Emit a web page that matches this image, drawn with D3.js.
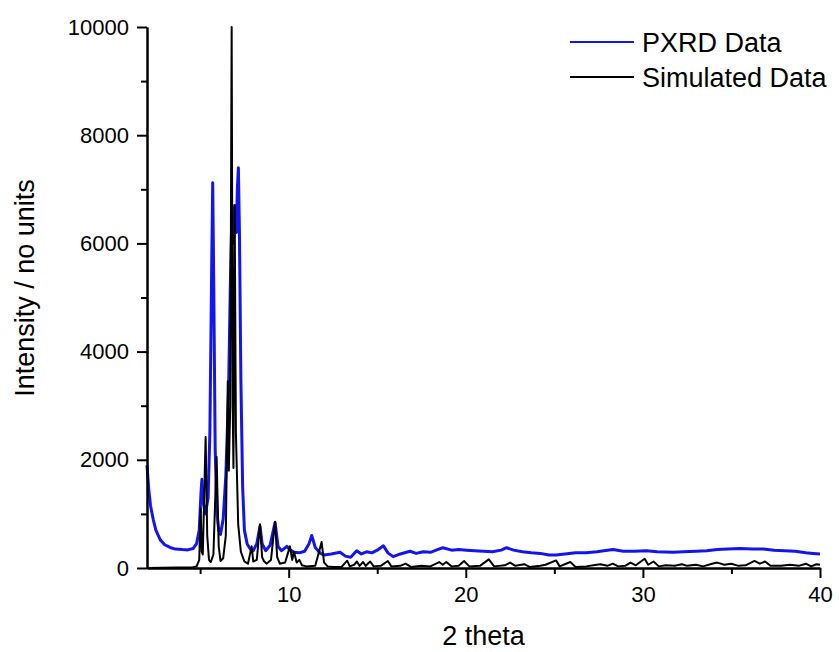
<!DOCTYPE html>
<html>
<head>
<meta charset="utf-8">
<script src="https://cdn.jsdelivr.net/npm/d3@7"></script>
<style>
    body { margin: 0; background: #fff; }
    svg { display: block; font-family: "Liberation Sans", Arial, sans-serif; }
</style>
</head>
<body>
<div id="pxrd-chart"></div>
<script>
// 2 theta / intensity pairs
var pxrdData = [
    [2.0,1900],[2.1,1450],[2.2,1150],[2.35,900],[2.5,700],[2.75,520],[3.0,430],[3.3,380],
    [3.6,350],[4.0,340],[4.3,335],[4.6,360],[4.8,450],[4.95,700],[5.05,1400],[5.1,1640],
    [5.18,1200],[5.3,1000],[5.45,1300],[5.55,2500],[5.65,5500],[5.71,7120],[5.77,5200],
    [5.85,2200],[5.95,1000],[6.05,700],[6.15,620],[6.3,900],[6.45,1700],[6.6,3200],
    [6.72,5500],[6.8,6600],[6.88,6000],[6.95,6700],[7.05,6200],[7.1,7000],[7.16,7400],
    [7.22,6200],[7.3,3500],[7.4,1500],[7.5,700],[7.65,450],[7.85,340],[8.0,320],[8.2,450],
    [8.38,770],[8.5,450],[8.7,320],[8.95,420],[9.23,840],[9.4,400],[9.6,320],[9.9,400],
    [10.1,330],[10.3,290],[10.6,280],[10.9,310],[11.15,450],[11.3,600],[11.5,380],[11.8,270],
    [12.0,240],[12.4,260],[12.9,290],[13.2,220],[13.5,200],[13.84,320],[14.1,260],[14.4,300],
    [14.7,280],[15.0,330],[15.35,410],[15.6,280],[15.9,210],[16.3,260],[16.85,310],[17.2,270],
    [17.6,300],[18.0,290],[18.4,340],[18.7,375],[19.2,330],[19.6,340],[20.05,330],[20.5,320],
    [21.0,310],[21.5,300],[22.0,330],[22.3,375],[22.7,330],[23.2,300],[23.7,280],[24.2,270],
    [24.7,240],[25.1,240],[25.6,260],[26.2,280],[26.8,280],[27.4,300],[28.3,340],[28.9,310],
    [29.5,310],[30.2,320],[30.8,300],[31.7,290],[32.3,300],[33.0,310],[33.6,320],[34.2,340],
    [34.8,350],[35.5,360],[36.2,350],[36.8,350],[37.4,330],[38.0,320],[38.6,310],[39.2,280],
    [39.6,270],[40.0,260]
];

var simulatedData = [
    [2.0,0],[4.6,15],[4.8,30],[4.95,150],[5.03,1100],[5.09,300],[5.15,250],[5.31,2420],
    [5.4,600],[5.5,150],[5.6,110],[5.75,250],[5.93,2050],[6.05,400],[6.15,130],[6.3,180],
    [6.45,600],[6.56,3450],[6.62,1800],[6.7,3000],[6.78,10000],[6.84,3000],[6.88,1850],
    [6.95,6700],[7.02,2500],[7.15,800],[7.3,300],[7.5,120],[7.7,80],[7.91,400],[8.0,120],
    [8.2,150],[8.38,810],[8.5,200],[8.6,130],[8.75,80],[9.0,150],[9.23,855],[9.35,200],
    [9.5,80],[9.8,100],[10.07,400],[10.2,150],[10.3,300],[10.45,100],[10.6,150],[10.75,50],
    [11.0,30],[11.5,40],[11.86,480],[12.0,100],[12.2,30],[12.5,20],[13.0,25],[13.3,135],
    [13.45,30],[13.7,60],[13.85,120],[14.0,40],[14.2,110],[14.35,40],[14.6,120],[14.8,30],
    [15.2,40],[15.6,130],[15.8,30],[16.3,40],[16.6,80],[16.9,20],[17.5,40],[18.0,30],
    [18.5,110],[18.7,60],[18.9,110],[19.2,30],[19.6,40],[19.9,130],[20.2,30],[20.8,40],
    [21.3,160],[21.6,30],[22.2,50],[22.5,100],[22.8,40],[23.3,70],[23.6,20],[24.2,40],
    [24.5,60],[25.1,140],[25.3,30],[25.9,110],[26.2,20],[26.8,30],[27.2,50],[27.6,70],
    [28.0,40],[28.3,80],[28.6,30],[29.0,40],[29.3,100],[29.6,50],[30.1,170],[30.3,60],
    [30.6,120],[30.9,30],[31.3,50],[31.8,40],[32.2,70],[32.5,40],[33.0,60],[33.4,30],
    [33.9,80],[34.2,100],[34.6,60],[35.0,80],[35.4,40],[35.8,50],[36.3,130],[36.6,80],
    [36.9,120],[37.2,40],[37.8,40],[38.3,60],[38.8,40],[39.2,80],[39.5,30],[39.8,70],[40.0,60]
];

var xMajorTicks = [10, 20, 30, 40];
var xMinorTicks = [5, 15, 25, 35];
var yMajorTicks = [0, 2000, 4000, 6000, 8000, 10000];
var yMinorTicks = [1000, 3000, 5000, 7000, 9000];

var seriesNames = ["PXRD Data", "Simulated Data"];
var seriesColors = ["#1414ee", "#000000"];

var gSettings = {
    width : 839,
    height : 652,
    left : 147,
    right : 820,
    top : 27,
    bottom : 568
};

function drawChart(){
    var svg = d3.select("#pxrd-chart").append("svg")
        .attr("width", gSettings.width)
        .attr("height", gSettings.height);

    var x = d3.scaleLinear().domain([2, 40]).range([gSettings.left, gSettings.right]);
    var y = d3.scaleLinear().domain([0, 10000]).range([gSettings.bottom, gSettings.top]);

    var line = d3.line()
        .x(function(d){ return x(d[0]); })
        .y(function(d){ return y(d[1]); });

    //blue first, simulated on top
    svg.append("path")
        .datum(pxrdData)
        .attr("fill", "none")
        .attr("stroke", seriesColors[0])
        .attr("stroke-width", 3)
        .attr("stroke-linejoin", "round")
        .attr("d", line);

    svg.append("path")
        .datum(simulatedData)
        .attr("fill", "none")
        .attr("stroke", seriesColors[1])
        .attr("stroke-width", 2)
        .attr("stroke-linejoin", "round")
        .attr("d", line);

    //x axis
    var gx = svg.append("g").attr("transform", "translate(0," + gSettings.bottom + ")");
    gx.call(d3.axisBottom(x).tickValues(xMajorTicks).tickSize(10).tickPadding(8).tickSizeOuter(0));
    gx.append("g").call(d3.axisBottom(x).tickValues(xMinorTicks).tickSize(6).tickFormat("").tickSizeOuter(0));

    //y axis
    var gy = svg.append("g").attr("transform", "translate(" + gSettings.left + ",0)");
    gy.call(d3.axisLeft(y).tickValues(yMajorTicks).tickSize(10).tickPadding(8).tickSizeOuter(0)
        .tickFormat(d3.format("d")));
    gy.append("g").call(d3.axisLeft(y).tickValues(yMinorTicks).tickSize(6).tickFormat("").tickSizeOuter(0));

    svg.selectAll(".domain").attr("stroke", "#000").attr("stroke-width", 2);
    svg.selectAll(".tick line").attr("stroke", "#000").attr("stroke-width", 2);
    svg.selectAll(".tick text")
        .attr("fill", "#000")
        .style("font-size", "22px")
        .style("font-family", "'Liberation Sans', Arial, sans-serif");

    //axis titles
    svg.append("text")
        .attr("x", (gSettings.left + gSettings.right) / 2)
        .attr("y", 645)
        .attr("text-anchor", "middle")
        .style("font-size", "27px")
        .text("2 theta");

    svg.append("text")
        .attr("transform", "translate(34," + 288 + ") rotate(-90)")
        .attr("text-anchor", "middle")
        .style("font-size", "27px")
        .text("Intensity / no units");

    //legend
    var legend = svg.append("g").attr("transform", "translate(570,42)");
    seriesNames.forEach(function(name, i){
        var row = legend.append("g").attr("transform", "translate(0," + (i * 35) + ")");
        row.append("line")
            .attr("x1", 0).attr("x2", 64)
            .attr("y1", 0).attr("y2", 0)
            .attr("stroke", seriesColors[i])
            .attr("stroke-width", 2);
        row.append("text")
            .attr("x", 72)
            .attr("y", 0)
            .attr("dy", "0.36em")
            .style("font-size", "27px")
            .text(name);
    });
}

drawChart();
</script>
</body>
</html>
